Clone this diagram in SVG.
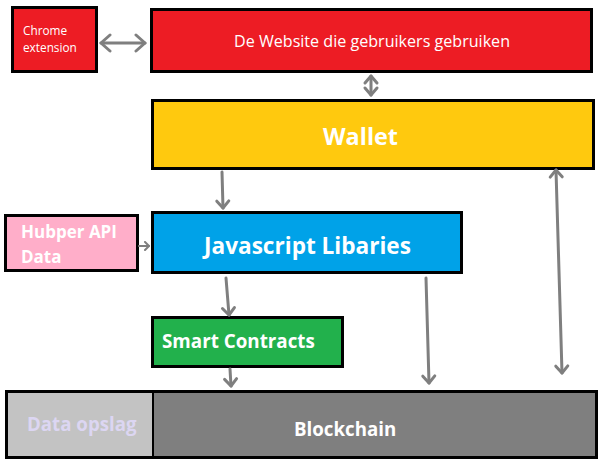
<svg xmlns="http://www.w3.org/2000/svg" width="602" height="464" viewBox="0 0 602 464">
<style>
.box{stroke:#000;stroke-width:3}
.t{font-family:"Open Sans","Noto Sans","Liberation Sans",sans-serif;fill:#fff}
.b{font-weight:bold}
.c{fill:none;stroke:#7f7f7f;stroke-width:3;stroke-linecap:round;stroke-linejoin:round}
</style>
<defs>
<marker id="ah" viewBox="0 0 20 20" refX="16" refY="10" markerWidth="20" markerHeight="20" markerUnits="userSpaceOnUse" orient="auto-start-reverse">
<path d="M7,2 L16,10 L7,18" fill="none" stroke="#7f7f7f" stroke-width="3" stroke-linecap="round" stroke-linejoin="round"/>
</marker>
<marker id="am" viewBox="0 0 20 20" refX="16" refY="10" markerWidth="20" markerHeight="20" markerUnits="userSpaceOnUse" orient="auto-start-reverse">
<path d="M9,4 L16,10 L9,16" fill="none" stroke="#7f7f7f" stroke-width="3" stroke-linecap="round" stroke-linejoin="round"/>
</marker>
<marker id="as" viewBox="0 0 10 10" refX="8" refY="5" markerWidth="10" markerHeight="10" markerUnits="userSpaceOnUse" orient="auto">
<path d="M4,1 L8,5 L4,9" fill="none" stroke="#7f7f7f" stroke-width="2" stroke-linecap="round" stroke-linejoin="round"/>
</marker>
</defs>
<rect width="602" height="464" fill="#fff"/>
<g id="chrome">
<rect class="box" x="12.5" y="7.5" width="84" height="64" fill="#ed1c24"/>
<text class="t" x="23" y="35" font-size="11.8">Chrome</text>
<text class="t" x="23" y="52" font-size="11.8">extension</text>
</g>
<g id="website">
<rect class="box" x="151.5" y="9.5" width="440" height="62" fill="#ed1c24"/>
<text class="t" x="372" y="47" font-size="16.1" text-anchor="middle">De Website die gebruikers gebruiken</text>
</g>
<g id="wallet">
<rect class="box" x="152.5" y="100.5" width="441" height="68" fill="#ffc90e"/>
<text class="t b" x="323" y="145" font-size="23.4">Wallet</text>
</g>
<g id="hubper">
<rect class="box" x="5.5" y="215.5" width="132" height="55" fill="#ffaec9"/>
<text class="t b" x="21" y="238" font-size="17">Hubper API</text>
<text class="t b" x="21" y="263" font-size="17">Data</text>
</g>
<g id="javascript">
<rect class="box" x="152.5" y="212.5" width="309" height="60" fill="#00a2e8"/>
<text class="t b" x="204" y="254" font-size="22.6">Javascript Libaries</text>
</g>
<g id="smart">
<rect class="box" x="152.5" y="317.5" width="190" height="49" fill="#22b14c"/>
<text class="t b" x="162" y="348" font-size="18.8">Smart Contracts</text>
</g>
<g id="dataopslag">
<rect x="7" y="392" width="146" height="65" fill="#c3c3c3"/>
<text class="t b" x="27" y="431" font-size="18.7" style="fill:#dcd6f2">Data opslag</text>
</g>
<g id="blockchain">
<rect x="153" y="392" width="443" height="65" fill="#7f7f7f"/>
<text class="t b" x="294" y="436" font-size="18.7">Blockchain</text>
</g>
<rect class="box" x="6.5" y="391.5" width="590" height="66" fill="none"/>
<line x1="153" y1="392" x2="153" y2="457" stroke="#000" stroke-width="2"/>
<g id="connectors">
<path class="c" d="M101,43 L145,43" marker-start="url(#ah)" marker-end="url(#ah)"/>
<path class="c" d="M371,76 L371,95" marker-start="url(#am)" marker-end="url(#am)"/>
<path class="c" d="M222,172 L223,208" marker-end="url(#am)"/>
<path class="c" style="stroke-width:2" d="M139,246 L149,246" marker-end="url(#as)"/>
<path class="c" d="M226,278 L229,315" marker-end="url(#am)"/>
<path class="c" d="M230,369 L231,386" marker-end="url(#am)"/>
<path class="c" d="M426,278 L429,383" marker-end="url(#am)"/>
<path class="c" d="M556,170 L562,373" marker-start="url(#am)" marker-end="url(#am)"/>
</g>
</svg>
